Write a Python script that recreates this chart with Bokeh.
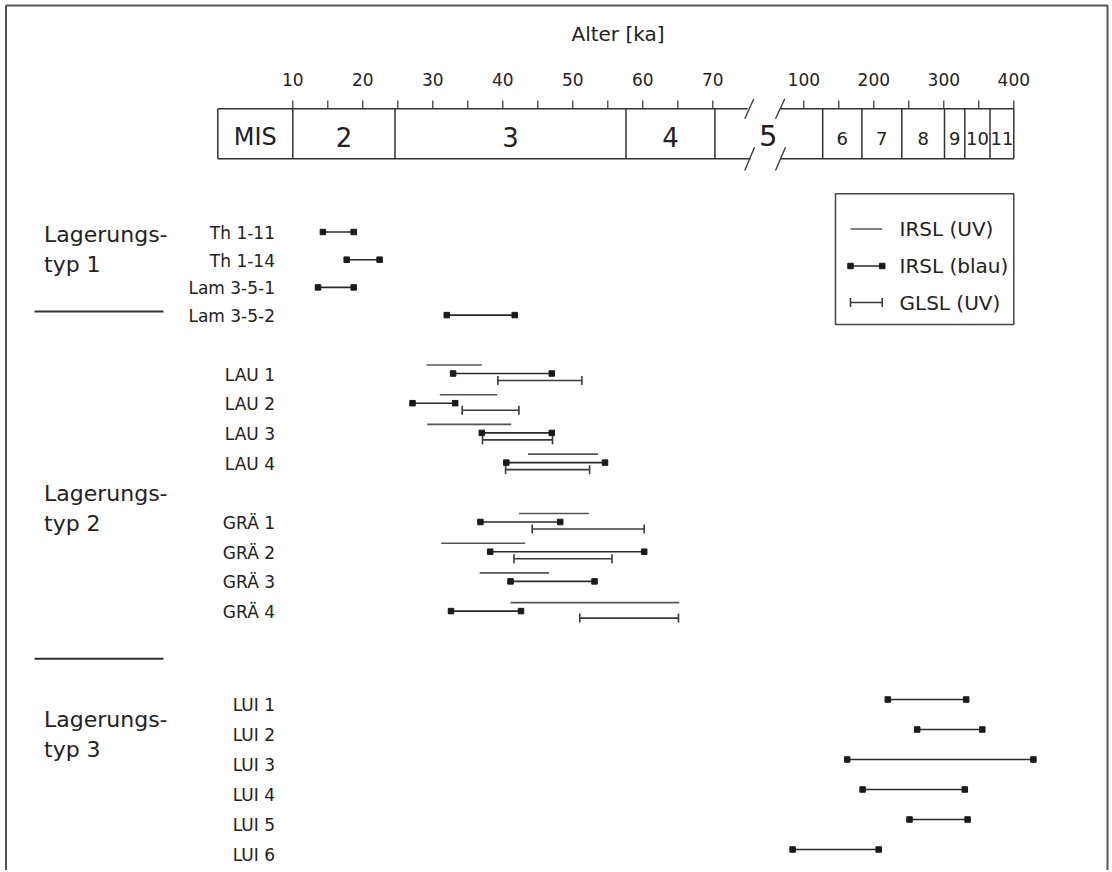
import math
from bokeh.plotting import figure
from bokeh.models import Range1d, ColumnDataSource
from bokeh.embed import file_html
from bokeh.resources import INLINE
from bokeh.core.properties import value

nan = float("nan")

# ---------------- data (ages in ka) ----------------
samples = ["Th 1-11", "Th 1-14", "Lam 3-5-1", "Lam 3-5-2",
           "LAU 1", "LAU 2", "LAU 3", "LAU 4",
           "GRÄ 1", "GRÄ 2", "GRÄ 3", "GRÄ 4",
           "LUI 1", "LUI 2", "LUI 3", "LUI 4", "LUI 5", "LUI 6"]
lagerungstyp = [1, 1, 1, 1,
                2, 2, 2, 2, 2, 2, 2, 2,
                3, 3, 3, 3, 3, 3]

irsl_uv_min = [nan, nan, nan, nan,
               29.1, 31.0, 29.2, 43.6, 42.3, 31.2, 36.7, 41.1,
               nan, nan, nan, nan, nan, nan]
irsl_uv_max = [nan, nan, nan, nan,
               37.0, 39.2, 41.2, 53.6, 52.3, 43.2, 46.6, 65.2,
               nan, nan, nan, nan, nan, nan]

irsl_blau_min = [14.3, 17.7, 13.6, 32.0,
                 32.9, 27.1, 37.0, 40.5, 36.8, 38.2, 41.1, 32.6,
                 220, 262, 162, 184, 251, 84]
irsl_blau_max = [18.7, 22.4, 18.7, 41.7,
                 47.0, 33.2, 47.0, 54.6, 48.2, 60.2, 53.1, 42.6,
                 332, 355, 428, 330, 334, 207]

glsl_uv_min = [nan, nan, nan, nan,
               39.3, 34.2, 37.1, 40.4, 44.2, 41.6, nan, 51.0,
               nan, nan, nan, nan, nan, nan]
glsl_uv_max = [nan, nan, nan, nan,
               51.3, 42.3, 47.1, 52.4, 60.2, 55.6, nan, 65.1,
               nan, nan, nan, nan, nan, nan]

mis_young_labels = ["2", "3", "4"]
mis_young_bounds = [10, 24.6, 57.6, 70.3]
mis_old_labels = ["6", "7", "8", "9", "10", "11"]
mis_old_bounds = [127, 183, 240, 301, 330, 366, 400]

ticks_young = [10, 15, 20, 25, 30, 35, 40, 45, 50, 55, 60, 65, 70]
ticks_old = [100, 150, 200, 250, 300, 350, 400]
tick_labels_young = [10, 20, 30, 40, 50, 60, 70]
tick_labels_old = [100, 200, 300, 400]

legend_labels = ["IRSL (UV)", "IRSL (blau)", "GLSL (UV)"]
group_labels = ["Lagerungs-\ntyp 1", "Lagerungs-\ntyp 2", "Lagerungs-\ntyp 3"]

# ---------------- layout / style ----------------
W, H = 1110, 870
FONT = value("DejaVu Sans")
INK = "#222222"

# broken age axis: two linear scales sharing one frame
X10, PPK_Y = 292.3, 7.0      # young scale: pixel of 10 ka, px per ka
X100, PPK_O = 803.3, 0.7     # old scale: pixel of 100 ka, px per ka

p = figure(width=W, height=H, title=None,
           x_range=Range1d(0, W), y_range=Range1d(H, 0),
           x_axis_type=None, y_axis_type=None,
           output_backend="svg", toolbar_location=None, min_border=0)
p.outline_line_color = None
p.extra_x_ranges = {
    "young": Range1d(10 + (0 - X10) / PPK_Y, 10 + (W - X10) / PPK_Y),
    "old": Range1d(100 + (0 - X100) / PPK_O, 100 + (W - X100) / PPK_O),
}

def txt(x, y, t, size, align="left", rng="default", color=INK):
    p.text(x=x, y=y, text=t, text_font=FONT, text_font_size=size,
           text_align=align, text_baseline="alphabetic", text_color=color,
           x_range_name=rng)

# outer frame
p.multi_line(xs=[[5.5, 5.5, 1107, 1107]], ys=[[H + 5, 5, 5, H + 5]],
             line_color="#555555", line_width=2)

# title
txt([617.5], [33], ["Alter [ka]"], "20px", "center")

# MIS box
BOX_T, BOX_B, HDR_L = 108.3, 158.3, 217.3
p.segment(x0=[HDR_L, HDR_L, 780, 780], y0=[BOX_T, BOX_B, BOX_T, BOX_B],
          x1=[747, 750, 1013.3, 1013.3], y1=[BOX_T, BOX_B, BOX_T, BOX_B],
          line_color="#333333", line_width=1.5)
p.segment(x0=[HDR_L], y0=[BOX_T], x1=[HDR_L], y1=[BOX_B],
          line_color="#333333", line_width=1.5)
p.segment(x0=mis_young_bounds, y0=[BOX_T] * len(mis_young_bounds),
          x1=mis_young_bounds, y1=[BOX_B] * len(mis_young_bounds),
          line_color="#333333", line_width=1.5, x_range_name="young")
p.segment(x0=mis_old_bounds, y0=[BOX_T] * len(mis_old_bounds),
          x1=mis_old_bounds, y1=[BOX_B] * len(mis_old_bounds),
          line_color="#333333", line_width=1.5, x_range_name="old")
# break marks
p.segment(x0=[744.3, 775, 744.3, 775], y0=[118.3, 118.3, 170, 170],
          x1=[753.3, 784.3, 754, 785], y1=[98.3, 98.3, 146.7, 146.7],
          line_color="#333333", line_width=1.3)

# ticks
p.segment(x0=ticks_young, x1=ticks_young, y0=[100] * len(ticks_young),
          y1=[BOX_T] * len(ticks_young), line_color="#333333", line_width=1.2,
          x_range_name="young")
p.segment(x0=ticks_old, x1=ticks_old, y0=[100] * len(ticks_old),
          y1=[BOX_T] * len(ticks_old), line_color="#333333", line_width=1.2,
          x_range_name="old")
txt(tick_labels_young, [79] * len(tick_labels_young),
    [str(v) for v in tick_labels_young], "17px", "center", "young")
txt(tick_labels_old, [79] * len(tick_labels_old),
    [str(v) for v in tick_labels_old], "17px", "center", "old")

# MIS labels
txt([254.8], [136.5], ["MIS"], "24px", "center")
mid_y = [(a + b) / 2 for a, b in zip(mis_young_bounds[:-1], mis_young_bounds[1:])]
txt(mid_y, [136.5] * len(mid_y), mis_young_labels, "26px", "center", "young")
txt([767.7], [134.5], ["5"], "29px", "center")
mid_o = [(a + b) / 2 for a, b in zip(mis_old_bounds[:-1], mis_old_bounds[1:])]
txt(mid_o, [138] * len(mid_o), mis_old_labels, "18px", "center", "old")

# rows
GROUP_TOP = {1: 232.5, 2: 374.0, 3: 704.0}
GROUP_STEP = {1: 27.7, 2: 29.7, 3: 30.0}
GROUP_SHIFT = {1: -1.0, 2: -1.0, 3: -5.0}
row_y, line_y = [], []
slot, prev_g, prev_site = 0, None, None
for name, g in zip(samples, lagerungstyp):
    site = name.split()[0]
    if g != prev_g:
        slot = 0
    elif g == 2 and site != prev_site:
        slot += 2
    else:
        slot += 1
    y = GROUP_TOP[g] + slot * GROUP_STEP[g]
    row_y.append(y)
    line_y.append(y + GROUP_SHIFT[g])
    prev_g, prev_site = g, site

txt([274.5] * len(samples), row_y, samples, "17px", "right")

# group labels and separators
GROUP_LABEL_Y = [234, 493, 719]
for lab, b in zip(group_labels, GROUP_LABEL_Y):
    l1, l2 = lab.split("\n")
    txt([43.5, 43.5], [b, b + 29.5], [l1, l2], "22px", "left")
p.segment(x0=[34, 34], x1=[163, 163], y0=[311, 658.3], y1=[311, 658.3],
          line_color="#333333", line_width=2)

METHOD_DY = {"uv": -8.5, "blau": 0.0, "glsl": 7.0}
COL = {"uv": "#555555", "blau": "#2a2a2a", "glsl": "#3a3a3a"}

def draw(lo, hi, kind):
    for rng, groups in (("young", (1, 2)), ("old", (3,))):
        idx = [i for i in range(len(samples))
               if lagerungstyp[i] in groups and not math.isnan(lo[i])]
        if not idx:
            continue
        x0 = [lo[i] for i in idx]
        x1 = [hi[i] for i in idx]
        yy = [line_y[i] + METHOD_DY[kind] for i in idx]
        src = ColumnDataSource(dict(x0=x0, x1=x1, y=yy))
        p.segment(x0="x0", x1="x1", y0="y", y1="y", source=src,
                  line_color=COL[kind], line_width=1.6, x_range_name=rng)
        if kind == "blau":
            p.scatter(x=x0 + x1, y=yy + yy, marker="square", size=5.5,
                      fill_color="#1a1a1a", line_color="#1a1a1a",
                      x_range_name=rng)
        if kind == "glsl":
            p.segment(x0=x0 + x1, x1=x0 + x1, y0=[v - 4.5 for v in yy + yy],
                      y1=[v + 4.5 for v in yy + yy], line_color=COL[kind],
                      line_width=1.6, x_range_name=rng)

draw(irsl_uv_min, irsl_uv_max, "uv")
draw(irsl_blau_min, irsl_blau_max, "blau")
draw(glsl_uv_min, glsl_uv_max, "glsl")

# legend
p.quad(left=[835], right=[1013.3], top=[193.3], bottom=[324],
       fill_color=None, line_color="#444444", line_width=1.5)
LEG_Y = [228.5, 265.5, 302.0]
p.segment(x0=[850] * 3, x1=[881.7] * 3, y0=LEG_Y, y1=LEG_Y,
          line_color=[COL["uv"], COL["blau"], COL["glsl"]], line_width=1.6)
p.scatter(x=[850, 881.7], y=[LEG_Y[1]] * 2, marker="square", size=5.5,
          fill_color="#1a1a1a", line_color="#1a1a1a")
p.segment(x0=[850, 881.7], x1=[850, 881.7], y0=[LEG_Y[2] - 4.5] * 2,
          y1=[LEG_Y[2] + 4.5] * 2, line_color=COL["glsl"], line_width=1.6)
txt([899] * 3, LEG_Y, legend_labels, "20px", "left")

open("out.html", "w").write(file_html(p, INLINE))
